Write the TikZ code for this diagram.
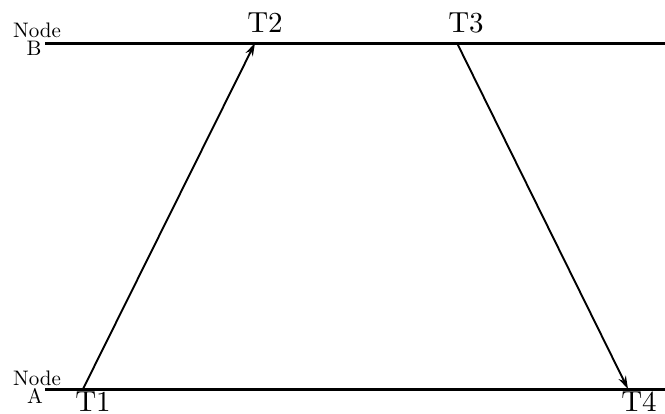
\documentclass[tikz,border=0pt]{standalone}
\usetikzlibrary{arrows.meta}
\begin{document}
\begin{tikzpicture}[x=1pt,y=-1pt,
  axis/.style={line width=3pt},
  msg/.style={line width=1.9pt,-{Stealth[length=13pt,width=8pt]}},
  tlabel/.style={font=\normalsize,scale=2.9,inner sep=0pt,anchor=base},
  nlabel/.style={font=\normalsize,scale=2.1,inner sep=0pt,anchor=base}]
\useasboundingbox (0,0) rectangle (665,413);
\coordinate (Bs) at (45,43);
\coordinate (Be) at (665,43);
\coordinate (As) at (45,389);
\coordinate (Ae) at (665,389);
\draw[axis] (Bs) -- (Be);
\draw[axis] (As) -- (Ae);
\coordinate (p1) at (83,389);
\coordinate (p2) at (255,43);
\coordinate (p3) at (457,43);
\coordinate (p4) at (628,389);
\draw[msg] (p1) -- (p2);
\draw[msg] (p3) -- (p4);
\node[tlabel] (t1) at (93,411) {T1};
\node[tlabel] (t2) at (265,32) {T2};
\node[tlabel] (t3) at (466,32) {T3};
\node[tlabel] (t4) at (639,411) {T4};
\node[nlabel] (nb) at (37,37) {Node};
\node[nlabel] (nbl) at (34,55) {B};
\node[nlabel] (na) at (37,385) {Node};
\node[nlabel] (nal) at (35,403) {A};
\end{tikzpicture}
\end{document}
